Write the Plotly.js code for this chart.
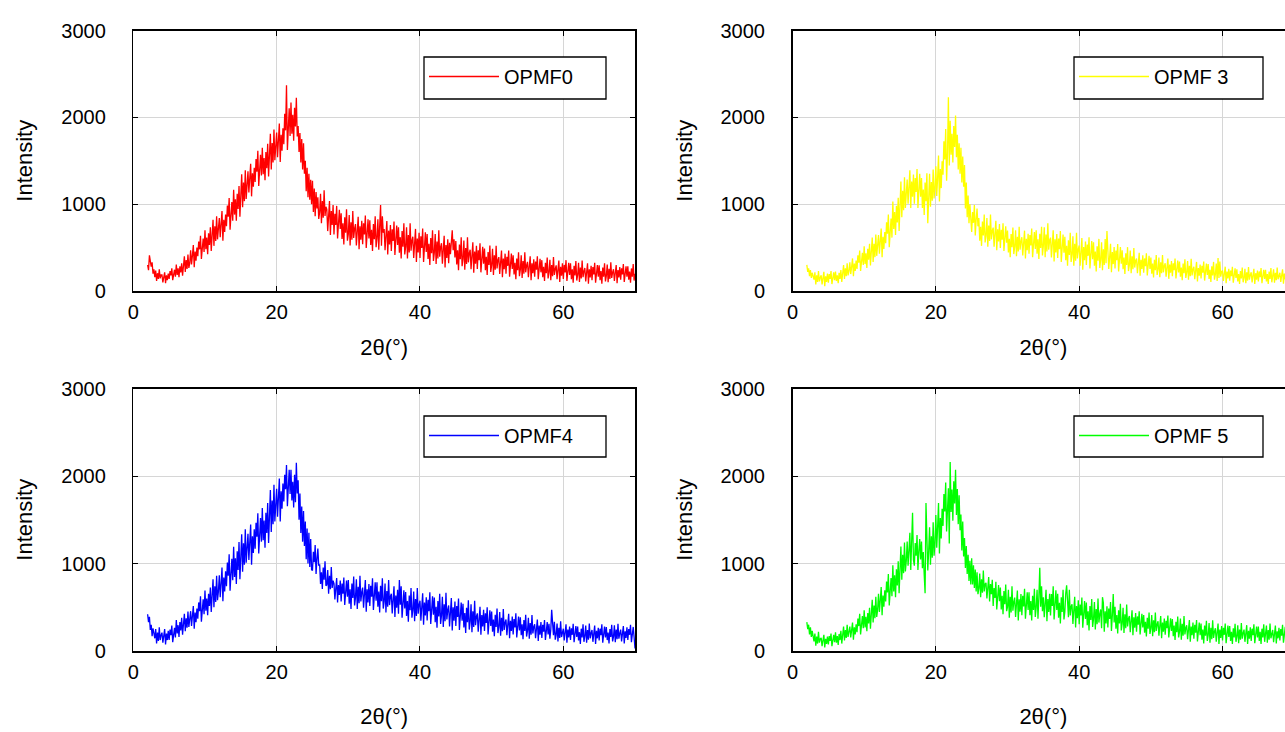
<!DOCTYPE html>
<html>
<head>
<meta charset="utf-8">
<script src="https://cdn.plot.ly/plotly-3.0.1.min.js"></script>
<style>
html, body { margin: 0; padding: 0; overflow: hidden; background: #ffffff; }
#chart { width: 1300px; height: 732px; }
</style>
</head>
<body>
<div id="chart"></div>
<script>
const twoThetaStart = 2;
const twoThetaStep = 0.125;

const seriesNames = ['OPMF0', 'OPMF 3', 'OPMF4', 'OPMF 5'];
const xTickVals = [0, 20, 40, 60];
const yTickVals = [0, 1000, 2000, 3000];
const xTitle = '2θ(°)';
const yTitle = 'Intensity';

const opmf0 = [
 300,240,410,360,280,330,200,250, 160,235,115,205,140,250,145,185,
 185,100,155,215,90,180,125,200, 140,230,180,260,125,200,245,165,
 305,185,260,160,285,215,320,175, 290,400,220,355,255,420,265,320,
 470,305,410,530,275,455,350,500, 400,570,480,635,370,510,605,450,
 700,480,615,425,665,530,735,460, 630,820,520,745,575,860,595,690,
 840,620,760,920,580,820,680,880, 745,985,855,1070,705,895,1025,810,
 1165,880,1055,810,1120,945,1210,855, 1110,1345,965,1250,1035,1390,1060,1180,
 1380,1135,1290,1465,1090,1355,1200,1420, 1255,1520,1375,1615,1210,1425,1570,1330,
 1650,1345,1530,1275,1600,1415,1695,1320, 1555,1810,1400,1705,1480,1860,1505,1630,
 1825,1540,1720,1930,1485,1800,1615,1875, 1690,2040,1850,2370,1625,1910,2105,1785,
 2170,1810,2030,1730,2110,1895,2225,1780, 1900,1600,1820,1480,1750,1400,1700,1350,
 1500,1150,1420,1080,1350,1050,1280,1000, 1270,910,1180,860,1140,950,1080,830,
 910,1120,780,1035,845,1160,865,970, 940,690,850,1035,645,920,760,990,
 650,890,760,980,605,800,935,715, 895,600,780,535,850,670,940,580,
 655,875,525,790,590,920,610,720, 770,525,680,855,480,745,590,810,
 540,780,650,870,495,690,825,605, 815,530,705,460,770,595,860,505,
 605,825,475,740,990,520,860,670, 715,470,625,805,420,695,535,760,
 460,710,575,800,415,620,755,530, 735,440,620,375,690,510,780,420,
 510,735,375,645,445,780,465,580, 625,380,535,715,335,605,445,670,
 380,630,495,720,335,540,675,450, 655,370,545,300,610,435,700,345,
 440,655,310,570,375,700,395,505, 550,315,465,635,270,530,380,595,
 320,555,425,640,700,470,595,385, 575,305,470,240,535,365,620,285,
 370,580,245,495,310,620,330,435, 475,250,395,560,210,455,315,520,
 255,470,355,550,215,390,510,315, 490,240,395,185,450,300,525,220,
 300,485,185,410,245,520,260,355, 390,195,320,465,160,375,250,430,
 200,395,290,465,165,325,430,255, 410,190,325,135,375,240,445,170,
 245,410,150,345,200,445,215,295, 335,160,270,400,125,320,205,365,
 165,340,245,400,135,275,370,215, 355,160,280,115,325,205,385,145,
 215,360,125,300,170,390,185,255, 295,135,235,350,105,280,175,320,
 140,300,215,355,115,240,325,185, 320,135,250,95,290,180,345,120,
 185,325,105,270,145,350,160,225, 265,110,210,320,85,250,155,290,
 125,275,190,325,95,220,300,165, 295,125,230,85,270,165,320,110,
 175,305,100,255,140,330,150,215, 250,115,205,300,90,240,155,275,
 130,260,190,310,105,210,285,165, 285,130,225,95,260,165,310,120,
 200
];

const opmf3 = [
 300,220,260,170,240,150,210,160, 130,215,75,180,105,230,110,155,
 180,75,145,220,55,170,105,200, 95,195,140,230,80,160,215,125,
 225,115,180,90,210,140,240,105, 200,300,140,260,170,320,180,230,
 330,195,280,375,170,315,230,350, 255,410,325,465,230,355,440,300,
 515,310,435,265,485,360,545,295, 440,615,335,545,390,650,405,495,
 645,430,565,720,390,625,485,680, 550,790,660,880,505,700,835,615,
 1030,715,910,645,980,790,1075,690, 1005,1260,850,1155,930,1310,955,1080,
 1285,1005,1185,1390,955,1260,1085,1340, 1005,1300,1140,1405,955,1190,1350,1085,
 1300,955,1170,875,1250,1035,1355,780, 1110,1350,970,1255,1040,1400,1065,1185,
 1435,1095,1310,1560,1030,1405,1185,1495, 1340,1725,1515,1865,1270,1585,2230,1445,
 1960,1570,1810,1480,1900,1660,2020,1540, 1800,1400,1700,1350,1650,1250,1550,1200,
 1450,950,1250,850,1100,780,1000,740, 680,910,785,990,640,825,950,745,
 840,580,740,520,800,640,880,560, 635,840,510,755,575,880,595,695,
 730,510,650,810,470,710,570,770, 495,705,590,780,460,630,745,555,
 695,445,600,390,655,505,730,425, 510,700,400,625,455,740,475,570,
 620,410,545,695,375,600,470,660, 430,645,525,720,390,565,680,485,
 700,430,595,370,660,495,740,410, 520,735,390,650,455,780,475,585,
 615,385,530,700,340,595,445,655, 380,605,480,690,335,525,650,440,
 625,355,520,290,585,415,670,335, 415,630,290,545,350,670,375,480,
 525,290,440,610,245,505,355,570, 300,535,405,620,260,450,575,365,
 560,290,455,225,515,350,600,265, 360,560,240,480,300,600,320,690,
 470,255,390,545,215,450,310,505, 260,465,355,540,225,390,505,315,
 470,250,385,195,435,300,505,230, 300,465,205,400,250,495,270,350,
 375,205,315,440,175,360,255,410, 210,375,285,435,180,315,405,255,
 385,200,315,155,360,240,415,185, 245,385,160,330,205,415,215,290,
 320,165,265,375,140,305,210,345, 170,320,240,375,145,270,350,215,
 340,165,270,125,315,205,365,150, 210,345,130,290,170,370,180,250,
 280,135,230,335,110,265,175,305, 145,290,210,340,120,235,315,185,
 310,140,245,105,285,180,335,130, 190,315,115,380,150,340,165,225,
 235,115,190,280,90,225,145,255, 120,235,170,280,95,195,260,150,
 250,110,195,80,230,145,270,100, 150,255,90,215,120,275,130,185,
 215,100,175,255,80,205,130,235, 110,225,160,265,90,185,245,140,
 245,110,195,80,225,140,265,100, 155,250,95,210,125,270,135,180,
 210,105,170,250,85,200,135,230, 115,220,165,260,95,180,240,145,
 170
];

const opmf4 = [
 420,330,390,240,300,170,260,200, 145,250,85,210,115,270,125,180,
 210,95,170,250,75,200,125,230, 125,245,180,290,100,200,265,155,
 355,200,295,160,330,235,380,185, 300,425,225,375,265,450,275,340,
 455,285,395,515,255,440,330,485, 370,555,455,625,335,485,590,420,
 690,460,600,410,655,515,725,445, 620,820,500,740,560,860,580,680,
 865,615,775,955,570,840,680,910, 740,1010,860,1105,690,910,1055,810,
 1190,845,1060,765,1140,925,1245,820, 1065,1335,905,1230,985,1390,1010,1145,
 1340,1040,1230,1445,985,1310,1120,1390, 1170,1465,1305,1575,1115,1355,1520,1250,
 1635,1265,1490,1180,1580,1350,1690,1235, 1540,1840,1360,1720,1450,1900,1480,1630,
 1855,1535,1740,1970,1480,1825,1625,1915, 1710,2015,1850,2125,1655,1905,2070,1795,
 2070,1720,1935,1640,2015,1700,2150,1800, 1950,1500,1800,1350,1650,1250,1600,1200,
 1480,1050,1400,1000,1350,960,1280,930, 920,1135,1015,1210,880,1055,1170,975,
 990,765,900,710,955,815,1025,745, 755,925,655,860,705,960,720,805,
 770,590,705,835,555,755,640,805, 565,770,655,840,525,695,805,620,
 810,540,705,480,770,605,850,520, 610,820,480,735,545,860,565,670,
 725,495,640,810,450,705,555,765, 515,745,620,830,470,660,785,575,
 785,505,680,440,745,570,830,485, 565,770,440,685,505,810,525,625,
 655,430,575,740,390,635,495,700, 425,810,530,740,380,570,695,485,
 675,400,570,335,635,465,720,380, 465,680,340,595,400,720,425,530,
 575,345,490,660,300,555,405,615, 350,585,455,670,310,500,625,415,
 610,330,505,265,570,395,655,310, 405,620,275,535,340,665,360,470,
 520,280,435,605,235,500,345,565, 285,515,390,600,240,430,555,345,
 540,270,435,205,495,330,580,245, 335,535,215,455,275,575,295,395,
 430,220,355,505,185,410,280,470, 230,430,320,500,190,355,465,285,
 450,220,360,170,415,275,485,205, 275,445,175,380,225,480,240,325,
 360,180,295,425,145,345,230,395, 190,365,270,430,155,300,395,235,
 385,180,305,135,355,230,415,165, 230,380,140,320,185,410,200,275,
 305,145,245,360,115,290,185,330, 150,300,220,355,125,245,330,190,
 310,140,245,470,285,180,335,130, 185,315,110,265,150,340,160,225,
 255,120,205,305,95,245,155,280, 125,260,185,310,100,210,285,160,
 280,120,215,80,255,155,305,105, 170,290,95,240,130,315,145,205,
 240,105,195,290,80,230,145,265, 120,255,180,305,95,205,280,155,
 275,125,210,85,250,160,300,110, 165,295,100,245,135,310,140,200,
 245,110,190,285,85,225,150,270, 125,250,185,300,100,210,275,160,
 30
];

const opmf5 = [
 330,250,300,190,270,160,230,180, 110,200,60,165,85,220,95,140,
 150,55,115,185,40,140,80,165, 75,170,115,200,55,135,185,100,
 215,95,170,70,195,125,230,85, 180,280,120,240,150,300,160,210,
 280,155,235,325,130,270,190,305, 215,370,285,425,190,315,400,260,
 465,270,390,225,435,315,495,255, 420,585,325,520,375,620,390,470,
 655,445,580,730,410,635,505,695, 565,795,670,880,520,710,835,625,
 980,680,865,615,935,750,1025,660, 960,1195,815,1100,890,1240,910,1030,
 1250,975,1150,1350,925,1225,1580,1040, 975,1235,1090,1325,925,1140,1280,1045,
 1250,945,1130,875,660,1690,1295,920, 1145,1415,985,1310,1065,1470,1090,1225,
 1555,1180,1420,1690,1115,1520,1285,1625, 1430,1795,1595,1925,1365,1665,1860,1230,
 2160,1590,1845,1490,1940,1685,2070,1555, 1850,1450,1780,1380,1560,1150,1480,1080,
 1290,950,1200,880,1100,800,1030,760, 1060,760,980,720,930,680,900,650,
 715,885,615,820,665,920,680,765, 780,600,715,845,565,765,650,815,
 515,720,605,790,475,645,755,570, 725,475,630,420,685,535,760,455,
 500,700,380,620,440,740,460,560, 610,390,530,690,350,590,450,650,
 410,630,510,710,370,550,670,470, 670,410,570,350,630,470,710,390,
 495,700,370,615,950,505,740,455, 615,385,530,700,340,595,445,655,
 405,650,515,740,360,560,695,470, 655,380,550,315,615,445,700,360,
 450,660,750,575,385,700,405,510, 535,310,455,620,270,515,375,580,
 305,530,405,610,265,450,570,365, 555,295,455,235,515,355,595,275,
 365,560,245,480,305,600,325,420, 475,260,615,550,220,455,315,510,
 270,485,365,560,230,405,650,325, 505,255,410,200,465,315,540,235,
 315,495,205,420,260,530,280,370, 400,215,335,465,180,385,265,435,
 220,395,300,455,190,330,425,270, 410,210,335,165,380,255,440,195,
 260,410,170,350,215,440,230,305, 340,175,280,400,145,325,220,370,
 185,345,260,405,155,285,375,230, 365,170,290,125,335,215,395,155,
 220,370,130,310,175,400,190,265, 295,135,240,355,105,280,180,325,
 140,300,210,355,110,240,325,180, 315,130,245,85,290,175,345,115,
 180,320,95,265,135,350,150,220, 260,105,205,315,80,245,150,285,
 120,265,185,315,90,210,290,160, 285,115,220,80,260,155,310,105,
 165,295,90,245,130,320,140,205, 245,105,195,295,80,230,140,270,
 115,255,180,305,90,205,280,155, 280,115,220,80,255,155,305,105,
 170,290,95,240,130,315,145,200, 240,100,190,290,85,225,145,265,
 120,250,175,300,95,200,275,160, 275,120,215,85,250,160,300,110,
 180
];

const seriesValues = [opmf0, opmf3, opmf4, opmf5];
const seriesColors = ['#ff0000', '#ffff00', '#0000ff', '#00ff00'];

const FONT = 'Liberation Sans, Arial, Helvetica, sans-serif';
const W = 1300, H = 732;

// subplot frames in pixels (left, right, top, bottom)
const frames = [
  [133.3, 635.0, 30.5, 291.0],
  [792.5, 1294.2, 30.5, 291.0],
  [133.3, 635.0, 388.5, 651.0],
  [792.5, 1294.2, 388.5, 651.0]
];
// legend boxes in pixels (left, top, right, bottom)
const legendBoxes = [
  [424, 57, 606, 99],
  [1074, 57, 1263, 99],
  [424, 416, 606, 457],
  [1074, 416, 1263, 457]
];
const xTitleStandoff = [18, 18, 27, 27];

const traces = [];
const shapes = [];
const layout = {
  width: W, height: H,
  margin: {l: 0, r: 0, t: 0, b: 0},
  paper_bgcolor: '#ffffff',
  plot_bgcolor: '#ffffff',
  font: {family: FONT, size: 20, color: '#000000'},
  showlegend: true,
  shapes: shapes
};

seriesValues.forEach(function (vals, i) {
  const n = i + 1;
  const xk = n === 1 ? 'x' : 'x' + n;
  const yk = n === 1 ? 'y' : 'y' + n;
  const lk = n === 1 ? 'legend' : 'legend' + n;
  traces.push({
    type: 'scatter', mode: 'lines',
    x0: twoThetaStart, dx: twoThetaStep, y: vals,
    name: seriesNames[i],
    xaxis: xk, yaxis: yk, legend: lk,
    line: {color: seriesColors[i], width: 1.3},
    hoverinfo: 'x+y'
  });
  const f = frames[i];
  layout[n === 1 ? 'xaxis' : 'xaxis' + n] = {
    domain: [f[0] / W, f[1] / W],
    anchor: yk,
    range: [0, 70],
    tickvals: xTickVals,
    ticktext: xTickVals.map(String),
    ticks: 'inside', ticklen: 5, tickwidth: 1, tickcolor: '#000000',
    showline: true, linecolor: '#000000', linewidth: 1.5, mirror: 'ticks',
    showgrid: true, gridcolor: '#d6d6d6', gridwidth: 1,
    zeroline: false,
    tickfont: {family: FONT, size: 20, color: '#000000'},
    ticklabelstandoff: 2,
    title: {text: xTitle, font: {family: FONT, size: 22, color: '#000000'}, standoff: xTitleStandoff[i]}
  };
  layout[n === 1 ? 'yaxis' : 'yaxis' + n] = {
    domain: [(H - f[3]) / H, (H - f[2]) / H],
    anchor: xk,
    range: [0, 3000],
    tickvals: yTickVals,
    ticktext: yTickVals.map(String),
    ticks: 'inside', ticklen: 5, tickwidth: 1, tickcolor: '#000000',
    showline: true, linecolor: '#000000', linewidth: 1.5, mirror: 'ticks',
    showgrid: true, gridcolor: '#d6d6d6', gridwidth: 1,
    zeroline: false,
    tickfont: {family: FONT, size: 20, color: '#000000'},
    ticklabelstandoff: 22,
    title: {text: yTitle, font: {family: FONT, size: 22, color: '#000000'}, standoff: 22}
  };
  const b = legendBoxes[i];
  shapes.push({
    type: 'rect', xref: 'paper', yref: 'paper', layer: 'above',
    x0: b[0] / W, x1: b[2] / W, y0: (H - b[3]) / H, y1: (H - b[1]) / H,
    line: {color: '#000000', width: 1.3}, fillcolor: '#ffffff'
  });
  layout[lk] = {
    x: b[0] / W, y: (H - b[1]) / H,
    xanchor: 'left', yanchor: 'top',
    xref: 'paper', yref: 'paper',
    bgcolor: 'rgba(0,0,0,0)',
    borderwidth: 0,
    font: {family: FONT, size: 20, color: '#000000'},
    itemwidth: 70,
    tracegroupgap: 0
  };
});

Plotly.newPlot('chart', traces, layout, {displayModeBar: false, staticPlot: true});
</script>
</body>
</html>
